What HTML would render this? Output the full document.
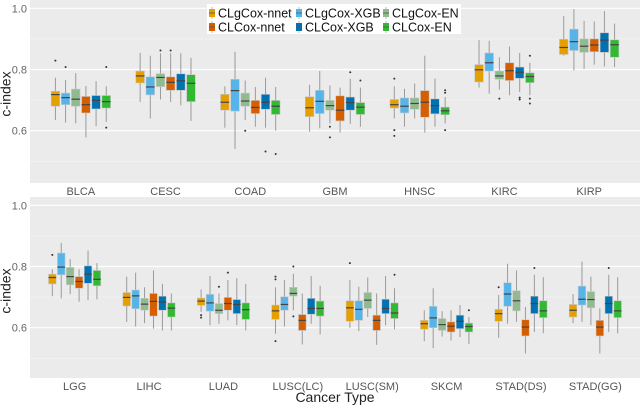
<!DOCTYPE html>
<html><head><meta charset="utf-8"><style>
html,body{margin:0;padding:0;background:#fff;}
svg{display:block;font-family:"Liberation Sans",sans-serif;}
</style></head><body>
<svg id="chart" width="640" height="405" viewBox="0 0 640 405"></svg>
<script>
const series = ["CLgCox-nnet","CLgCox-XGB","CLgCox-EN","CLCox-nnet","CLCox-XGB","CLCox-EN"];
const colors = ["#E69F00","#56B4E9","#8fbb8f","#D55E00","#0072B2","#33b833"];
const topCats = ["BLCA","CESC","COAD","GBM","HNSC","KIRC","KIRP"];
const botCats = ["LGG","LIHC","LUAD","LUSC(LC)","LUSC(SM)","SKCM","STAD(DS)","STAD(GG)"];
const yTicks = [0.6,0.8,1.0];
const yMinor = [0.5,0.7,0.9];
// [lo, q1, median, q3, hi, [outliers]]
const topData = [
 [[0.635,0.68,0.718,0.729,0.773,[0.829]],[0.627,0.685,0.708,0.723,0.766,[0.808]],[0.624,0.68,0.703,0.736,0.788,[]],[0.578,0.658,0.685,0.712,0.746,[]],[0.615,0.671,0.699,0.715,0.762,[]],[0.629,0.674,0.695,0.715,0.745,[0.61,0.808]]],
 [[0.694,0.756,0.779,0.795,0.854,[]],[0.64,0.717,0.743,0.776,0.845,[]],[0.702,0.744,0.774,0.786,0.853,[0.862]],[0.694,0.732,0.758,0.776,0.853,[0.862]],[0.683,0.732,0.763,0.786,0.853,[]],[0.632,0.695,0.755,0.783,0.838,[]]],
 [[0.61,0.667,0.693,0.719,0.745,[]],[0.54,0.664,0.731,0.768,0.858,[]],[0.635,0.68,0.697,0.723,0.764,[0.60]],[0.613,0.656,0.676,0.699,0.743,[]],[0.61,0.67,0.693,0.719,0.773,[0.532]],[0.60,0.653,0.68,0.699,0.743,[0.524]]],
 [[0.597,0.646,0.675,0.711,0.75,[]],[0.608,0.656,0.696,0.732,0.795,[]],[0.624,0.667,0.682,0.699,0.748,[0.613,0.578]],[0.594,0.632,0.667,0.714,0.741,[]],[0.622,0.667,0.692,0.71,0.77,[0.791]],[0.613,0.653,0.677,0.692,0.741,[0.764]]],
 [[0.64,0.674,0.685,0.702,0.745,[0.77,0.602,0.583]],[0.613,0.658,0.68,0.707,0.737,[]],[0.64,0.67,0.689,0.707,0.754,[]],[0.594,0.644,0.693,0.731,0.845,[]],[0.613,0.655,0.682,0.704,0.77,[]],[0.624,0.652,0.665,0.677,0.71,[0.732,0.724,0.602]]],
 [[0.741,0.759,0.799,0.816,0.896,[]],[0.721,0.795,0.822,0.854,0.894,[]],[0.734,0.768,0.779,0.795,0.84,[0.705]],[0.716,0.764,0.796,0.822,0.875,[]],[0.726,0.771,0.791,0.808,0.854,[0.708,0.702]],[0.716,0.757,0.777,0.789,0.822,[0.845,0.705,0.689]]],
 [[0.845,0.849,0.872,0.899,0.975,[]],[0.797,0.862,0.891,0.932,0.997,[]],[0.802,0.856,0.876,0.9,0.959,[]],[0.816,0.858,0.88,0.9,0.957,[]],[0.81,0.856,0.896,0.92,0.991,[]],[0.808,0.84,0.881,0.897,0.95,[]]]
];
const botData = [
 [[0.703,0.743,0.764,0.775,0.791,[0.838]],[0.696,0.773,0.798,0.844,0.877,[]],[0.71,0.74,0.767,0.797,0.824,[]],[0.685,0.729,0.751,0.767,0.791,[]],[0.69,0.745,0.775,0.802,0.852,[]],[0.693,0.737,0.758,0.787,0.811,[]]],
 [[0.619,0.671,0.699,0.715,0.767,[]],[0.604,0.662,0.704,0.723,0.78,[]],[0.615,0.657,0.677,0.696,0.732,[]],[0.597,0.638,0.686,0.712,0.787,[]],[0.591,0.657,0.684,0.703,0.743,[]],[0.591,0.635,0.664,0.681,0.712,[]]],
 [[0.652,0.673,0.687,0.697,0.725,[0.641,0.633]],[0.608,0.654,0.681,0.709,0.769,[]],[0.613,0.646,0.657,0.679,0.712,[0.734]],[0.624,0.657,0.679,0.699,0.756,[0.78]],[0.608,0.646,0.676,0.692,0.762,[]],[0.591,0.627,0.659,0.681,0.743,[]]],
 [[0.58,0.627,0.655,0.674,0.732,[0.767,0.758,0.556]],[0.604,0.657,0.676,0.701,0.756,[]],[0.657,0.703,0.712,0.732,0.776,[0.8,0.637]],[0.545,0.591,0.624,0.643,0.712,[]],[0.613,0.644,0.663,0.696,0.769,[]],[0.578,0.638,0.663,0.687,0.737,[]]],
 [[0.6,0.621,0.665,0.688,0.756,[0.811]],[0.589,0.624,0.66,0.688,0.734,[]],[0.635,0.663,0.69,0.715,0.764,[]],[0.544,0.591,0.624,0.641,0.712,[]],[0.608,0.646,0.663,0.693,0.769,[]],[0.595,0.63,0.648,0.681,0.729,[0.773]]],
 [[0.556,0.595,0.613,0.624,0.657,[]],[0.533,0.6,0.632,0.67,0.729,[]],[0.571,0.591,0.61,0.63,0.654,[]],[0.558,0.586,0.605,0.619,0.657,[]],[0.569,0.597,0.621,0.641,0.674,[]],[0.547,0.586,0.604,0.615,0.635,[0.657]]],
 [[0.567,0.621,0.646,0.66,0.707,[0.732]],[0.613,0.67,0.71,0.747,0.809,[]],[0.619,0.655,0.688,0.721,0.787,[]],[0.516,0.573,0.602,0.626,0.668,[]],[0.586,0.646,0.679,0.703,0.773,[0.795]],[0.582,0.633,0.655,0.688,0.765,[]]],
 [[0.615,0.635,0.657,0.676,0.71,[]],[0.619,0.674,0.693,0.736,0.816,[]],[0.608,0.665,0.692,0.718,0.767,[]],[0.516,0.573,0.602,0.624,0.663,[]],[0.586,0.646,0.679,0.703,0.773,[0.795]],[0.582,0.633,0.655,0.688,0.765,[]]]
];

const NS="http://www.w3.org/2000/svg";
const svg=document.getElementById('chart');
function mk(tag,attrs,parent){const e=document.createElementNS(NS,tag);for(const k in attrs)e.setAttribute(k,attrs[k]);(parent||svg).appendChild(e);return e;}

function panel(cats,data,top,bottom,name){
  const x0=30,x1=640;
  const g=mk('g',{});
  
  
  const bg=mk('rect',{x:x0,y:top,width:x1-x0,height:bottom-top,fill:'#ebebeb'},g);
  
  
  const ys=v=>top+130.7-(v-0.6)*306;
  const unit=(x1-x0)/(cats.length-1+1.2);
  const xs=i=>x0+unit*(0.6+i);
  yMinor.forEach(t=>{const l=mk('line',{x1:x0,x2:x1,y1:ys(t),y2:ys(t),stroke:'#f5f5f5','stroke-width':0.6},g);
    
    });
  yTicks.forEach(t=>{const l=mk('line',{x1:x0,x2:x1,y1:ys(t),y2:ys(t),stroke:'#fff','stroke-width':1.2},g);
    
    
    const tx=mk('text',{x:27,y:ys(t)+4,'text-anchor':'end','font-size':11,fill:'#666'},g);
    tx.textContent=t.toFixed(1);
    
    });
  const yt=mk('text',{x:0,y:0,'font-size':14,fill:'#222','text-anchor':'middle',transform:`translate(10.5,${top+94}) rotate(-90)`},g);
  yt.textContent='c-index';
  
  
  const slot=unit*0.72/6, bw=slot*0.85;
  cats.forEach((c,i)=>{
    const lab=mk('text',{x:xs(i),y:bottom+12,'text-anchor':'middle','font-size':11,fill:'#555'},g);
    lab.textContent=c;
    
    
    data[i].forEach((d,j)=>{
      const cx=xs(i)+(j-2.5)*slot;
      const bx=mk('g',{},g);
      
      
      mk('line',{x1:cx,x2:cx,y1:ys(d[0]),y2:ys(d[4]),stroke:'#9a9a9a','stroke-width':1},bx);
      mk('rect',{x:cx-bw/2,y:ys(d[3]),width:bw,height:ys(d[1])-ys(d[3]),fill:colors[j],stroke:'#c8c8c8','stroke-width':0.6},bx);
      mk('line',{x1:cx-bw/2,x2:cx+bw/2,y1:ys(d[2]),y2:ys(d[2]),stroke:'#444','stroke-width':1.2},bx);
      d[5].forEach(o=>{const p=mk('circle',{cx:cx,cy:ys(o),r:1,fill:'#333'},bx);
        
        });
    });
  });
}
panel(topCats,topData,0,183,'top-panel');
panel(botCats,botData,197,378,'bottom-panel');

const xt=mk('text',{x:335,y:402,'text-anchor':'middle','font-size':14,fill:'#222'});
xt.textContent='Cancer Type';



const lg=mk('g',{});


mk('rect',{x:207,y:4,width:254,height:30,fill:'#fff'},lg);
const colX=[209,296,383];
series.forEach((s,j)=>{
  const col=j%3,row=Math.floor(j/3);
  const yy=row?27:13;
  const e=mk('g',{},lg);
  
  
  mk('line',{x1:colX[col]+3,x2:colX[col]+3,y1:yy-6,y2:yy+6,stroke:'#bbb','stroke-width':1},e);
  mk('rect',{x:colX[col],y:yy-4,width:6,height:8,fill:colors[j]},e);
  mk('line',{x1:colX[col],x2:colX[col]+6,y1:yy,y2:yy,stroke:'#555','stroke-width':0.8},e);
  const t=mk('text',{x:colX[col]+9,y:yy+4.5,'font-size':12.5,fill:'#111'},e);
  t.textContent=s;
});
</script>
</body></html>
